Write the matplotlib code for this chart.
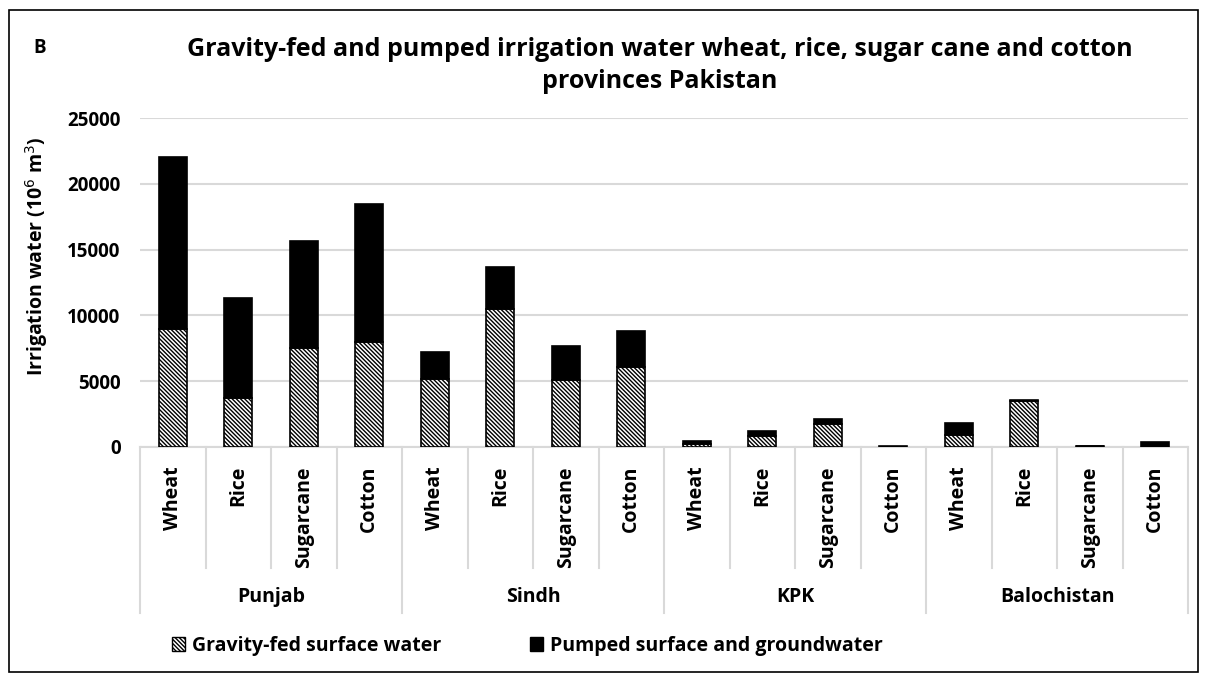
import matplotlib
matplotlib.use("Agg")
import matplotlib.pyplot as plt
from matplotlib.patches import Rectangle, Patch
from matplotlib.lines import Line2D
import numpy as np

provinces = ["Punjab", "Sindh", "KPK", "Balochistan"]
crops = ["Wheat", "Rice", "Sugarcane", "Cotton"]
gravity = [9000, 3700, 7500, 8000,
           5200, 10500, 5100, 6050,
           200, 830, 1770, 30,
           900, 3500, 40, 30]
pumped = [13000, 7650, 8150, 10500,
          2050, 3150, 2600, 2750,
          230, 410, 330, 30,
          920, 50, 20, 350]
yticks = [0, 5000, 10000, 15000, 20000, 25000]

plt.rcParams['font.family'] = ['Open Sans', 'DejaVu Sans']
plt.rcParams['hatch.linewidth'] = 1.0

W, H = 1208, 679
fig = plt.figure(figsize=(W / 100, H / 100), dpi=100)

x0, x1 = 140, 1188
ytop, ybot = 118, 447
ax = fig.add_axes([x0 / W, 1 - ybot / H, (x1 - x0) / W, (ybot - ytop) / H])

n = len(gravity)
x = np.arange(n)
bw = 0.42
ax.bar(x, gravity, width=bw, color='white', edgecolor='black', hatch='\\' * 8,
       linewidth=1.2, zorder=3)
ax.bar(x, pumped, bottom=gravity, width=bw, color='black', edgecolor='black',
       linewidth=1.2, zorder=3)

ax.set_xlim(-0.5, n - 0.5)
ax.set_ylim(0, 25000)
ax.set_yticks(yticks)
ax.set_yticklabels([str(v) for v in yticks], fontsize=13.5, fontweight='bold')
ax.tick_params(axis='y', length=0, pad=14)
ax.set_xticks([])
ax.grid(axis='y', color='#d9d9d9', linewidth=1.5, zorder=0)
for s in ['left', 'right', 'top']:
    ax.spines[s].set_visible(False)
ax.spines['bottom'].set_color('#d9d9d9')
ax.spines['bottom'].set_linewidth(1.5)

# y-axis title
fig.text(37 / W, 1 - 256 / H, "Irrigation water (10$^{6}$ m$^{3}$)", rotation=90,
         ha='center', va='center', fontsize=14, fontweight='bold')

# multi-level category axis
tr = ax.get_xaxis_transform()
def ypix(p):
    return (ybot - p) / (ybot - ytop)  # axes fraction from pixel y

y_inner = ypix(568)
y_outer = ypix(613)
for i in range(n + 1):
    xb = i - 0.5
    top = y_outer if i % 4 == 0 else y_inner
    ax.add_line(Line2D([xb, xb], [0, top], transform=tr, color='#d9d9d9',
                       linewidth=1.5, clip_on=False))
for i in range(n):
    ax.text(i, ypix(466), crops[i % 4], transform=tr, rotation=90, ha='center',
            va='top', fontsize=14, fontweight='bold')
for j, p in enumerate(provinces):
    ax.text(j * 4 + 1.5, ypix(597), p, transform=tr, ha='center', va='center',
            fontsize=14, fontweight='bold')

# title and panel letter
fig.text(660 / W, 1 - 50 / H, "Gravity-fed and pumped irrigation water wheat, rice, sugar cane and cotton",
         ha='center', va='center', fontsize=18, fontweight='bold')
fig.text(660 / W, 1 - 82 / H, "provinces Pakistan",
         ha='center', va='center', fontsize=18, fontweight='bold')
fig.text(40 / W, 1 - 48 / H, "B", ha='center', va='center', fontsize=13.5, fontweight='bold')

# legend
handles = [Patch(facecolor='white', edgecolor='black', hatch='\\' * 8, label='Gravity-fed surface water'),
           Patch(facecolor='black', edgecolor='black', label='Pumped surface and groundwater')]
leg = fig.legend(handles=handles, loc='center left', bbox_to_anchor=(154 / W, 1 - 646 / H),
                 ncol=2, frameon=False, prop={'size': 14, 'weight': 'bold'},
                 handlelength=0.7, handleheight=0.7, handletextpad=0.35, columnspacing=4.55)

# figure border
fig.add_artist(Rectangle((9 / W, 1 - 672 / H), (1198 - 9) / W, (672 - 10) / H,
                         transform=fig.transFigure, fill=False, edgecolor='black',
                         linewidth=1.2))

fig.savefig("out.png", dpi=100)
